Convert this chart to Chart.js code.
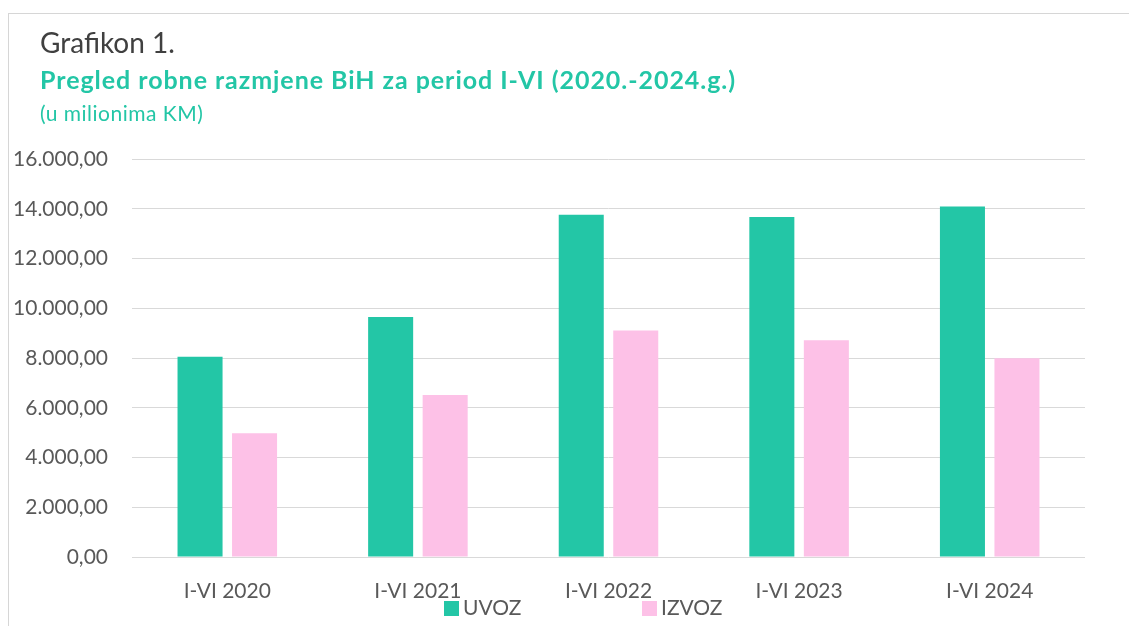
<!DOCTYPE html>
<html>
<head>
<meta charset="utf-8">
<script src="https://cdn.jsdelivr.net/npm/chart.js@4.4.1/dist/chart.umd.min.js"></script>
<style>
  html, body { margin: 0; padding: 0; background: #fff; }
  body { width: 1129px; height: 626px; position: relative; overflow: hidden; font-family: Lato, "Open Sans", sans-serif; }
  #frame { position: absolute; left: 8px; top: 13px; width: 1130px; height: 700px; border-top: 1px solid #d6d6d6; border-left: 1px solid #d6d6d6; }
  #wrap { position: absolute; left: 0; top: 0; width: 1129px; height: 626px; }
  .t { position: absolute; left: 40px; white-space: nowrap; }
  #t1 { top: 25px; font-size: 28px; color: #404040; }
  #t2 { top: 64px; font-size: 25px; font-weight: bold; color: #23C6A6; letter-spacing: 0.95px; }
  #t3 { top: 100px; font-size: 21px; color: #23C6A6; letter-spacing: 0.5px; }
</style>
</head>
<body>
<div id="frame"></div>
<div id="wrap"><canvas id="c" width="1129" height="626"></canvas></div>
<div class="t" id="t1">Grafikon 1.</div>
<div class="t" id="t2">Pregled robne razmjene BiH za period I-VI (2020.-2024.g.)</div>
<div class="t" id="t3">(u milionima KM)</div>
<script>
const categories = ["I-VI 2020", "I-VI 2021", "I-VI 2022", "I-VI 2023", "I-VI 2024"];
const uvoz = [8050, 9650, 13760, 13670, 14090];
const izvoz = [4970, 6510, 9110, 8710, 7990];
const seriesNames = ["UVOZ", "IZVOZ"];
const yTicks = [0, 2000, 4000, 6000, 8000, 10000, 12000, 14000, 16000];

function fmt(v) {
  const neg = v < 0; v = Math.abs(v);
  const parts = v.toFixed(2).split(".");
  const intPart = parts[0].replace(/\B(?=(\d{3})+(?!\d))/g, ".");
  return (neg ? "-" : "") + intPart + "," + parts[1];
}

const legendPlugin = {
  id: 'customLegend',
  afterDraw(chart) {
    const ctx = chart.ctx;
    const ds = chart.data.datasets;
    const startX = 444, slot = 198, cy = 608.5, box = 15;
    ctx.save();
    ctx.font = '21px Lato, "Open Sans", sans-serif';
    ctx.textBaseline = 'middle';
    ctx.textAlign = 'left';
    ds.forEach((d, i) => {
      const x = startX + i * slot;
      ctx.fillStyle = d.backgroundColor;
      ctx.fillRect(x, cy - box / 2, box, box);
      ctx.fillStyle = '#595959';
      ctx.fillText(d.label, x + box + 4, cy);
    });
    ctx.restore();
  }
};

new Chart(document.getElementById('c'), {
  type: 'bar',
  data: {
    labels: categories,
    datasets: [
      { label: seriesNames[0], data: uvoz, backgroundColor: '#23C6A6' },
      { label: seriesNames[1], data: izvoz, backgroundColor: '#FDC1E7' }
    ]
  },
  options: {
    responsive: false,
    animation: false,
    devicePixelRatio: 1,
    layout: { padding: { top: 159, right: 44, left: 0, bottom: 0 } },
    datasets: { bar: { categoryPercentage: 0.572, barPercentage: 0.826 } },
    plugins: {
      legend: { display: false },
      tooltip: { enabled: false },
      title: { display: false }
    },
    scales: {
      x: {
        grid: { display: false, drawTicks: false },
        border: { display: false },
        ticks: { color: '#595959', font: { family: 'Lato, "Open Sans", sans-serif', size: 21 }, padding: 22, maxRotation: 0 },
        afterFit(scale) { scale.height = 69; }
      },
      y: {
        min: 0, max: 16000,
        afterBuildTicks(scale) { scale.ticks = yTicks.map(v => ({ value: v })); },
        grid: { color: '#D9D9D9', lineWidth: 1, drawTicks: false },
        border: { display: false },
        ticks: { color: '#595959', font: { family: 'Lato, "Open Sans", sans-serif', size: 21 }, padding: 24, callback: v => fmt(v) },
        afterFit(scale) { scale.width = 132; }
      }
    }
  },
  plugins: [legendPlugin]
});
</script>
</body>
</html>
